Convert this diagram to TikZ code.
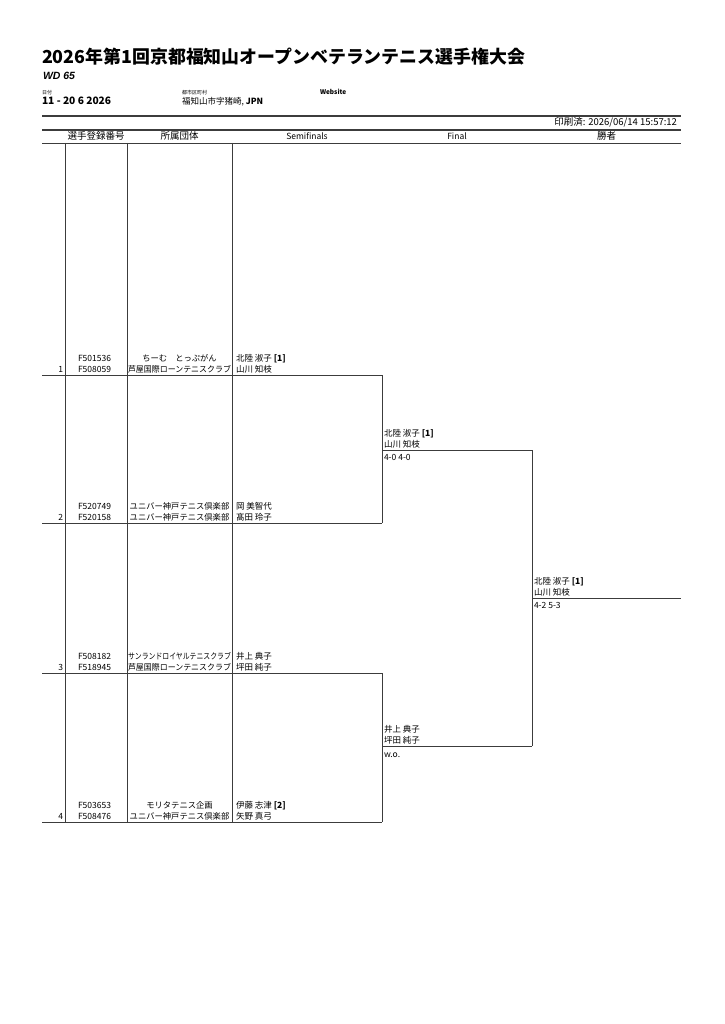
\documentclass[tikz,border=0pt]{standalone}
\usepackage{fontspec}
\usepackage{graphicx}
\setmainfont{Noto Sans CJK JP}
\newfontfamily\latinfont{Liberation Sans}
\usetikzlibrary{positioning}
\definecolor{RuleGray}{RGB}{60,60,60}
\newsavebox{\clubsave}
\newcommand{\clubbox}[1]{\sbox{\clubsave}{#1}\hbox to 103pt{\hss\ifdim\wd\clubsave>103pt \resizebox{103pt}{\height}{#1}\else\usebox{\clubsave}\fi\hss}}

\begin{document}
\begin{tikzpicture}[x=1pt,y=-1pt]
  \tikzset{TextStyle/.style = {
    anchor        = base west,
    inner sep     = 0pt,
    outer sep     = 0pt,
    font          = \fontsize{8.5}{9}\selectfont,
    text          = black
    }
  }
  \tikzset{NumberStyle/.style = {
    TextStyle,
    anchor        = base east
    }
  }
  \tikzset{ClubStyle/.style = {
    TextStyle,
    anchor        = base,
    font          = \fontsize{8.3}{9}\selectfont
    }
  }
  \tikzset{HeadStyle/.style = {
    TextStyle,
    anchor        = base,
    font          = \fontsize{8.5}{10}\selectfont
    }
  }
  \tikzset{TinyStyle/.style = {
    TextStyle,
    font          = \fontsize{5}{6}\selectfont
    }
  }
  \tikzset{RuleStyle/.style = {
    draw          = RuleGray,
    line width    = 0.8pt
    }
  }
  \tikzset{BracketStyle/.style = {
    draw          = RuleGray,
    line width    = 0.8pt
    }
  }

  \useasboundingbox (0,0) rectangle (724,1024);

	\node[TextStyle, font=\fontsize{17.9}{20}\selectfont\bfseries](title) at (42,64) {2026年第1回京都福知山オープンベテランテニス選手権大会};
	\node[TextStyle, font=\fontsize{10.5}{12}\selectfont\latinfont\bfseries\itshape](event) at (43,80) {WD 65};
	\node[TinyStyle](datelbl) at (42,95) {日付};
	\node[TextStyle, font=\fontsize{10.2}{11}\selectfont\bfseries](date) at (42,104.5) {11 - 20 6 2026};
	\node[TinyStyle](citylbl) at (182,95) {都市区町村};
	\node[TextStyle](city) at (182,104.5) {福知山市字猪崎, \textbf{JPN}};
	\node[TinyStyle, font=\fontsize{6.5}{7}\selectfont\bfseries](web) at (320,95) {Website};
	\node[TextStyle, anchor=base east, font=\fontsize{9.5}{10}\selectfont](printed) at (677,125.5) {印刷済: 2026/06/14 15:57:12};

	\draw[RuleStyle, line width=1.8pt](42,116) -- (681,116);
	\draw[RuleStyle, line width=1.2pt](42,130) -- (681,130);
	\draw[RuleStyle](42,143) -- (681,143);

	\node[HeadStyle, font=\fontsize{9.5}{10}\selectfont](h1) at (96,140) {選手登録番号};
	\node[HeadStyle, font=\fontsize{9.5}{10}\selectfont](h2) at (179.5,140) {所属団体};
	\node[HeadStyle](h3) at (307,140) {Semifinals};
	\node[HeadStyle](h4) at (457,140) {Final};
	\node[HeadStyle, font=\fontsize{9.5}{10}\selectfont](h5) at (606.5,140) {勝者};

	\coordinate (C1) at (65,143);
	\coordinate (C2) at (127,143);
	\coordinate (C3) at (232,143);
	\coordinate (L1) at (42,375);
	\coordinate (L2) at (42,523);
	\coordinate (L3) at (42,673);
	\coordinate (L4) at (42,822);
	\coordinate (R1) at (382,375);
	\coordinate (R2) at (382,523);
	\coordinate (R3) at (382,673);
	\coordinate (R4) at (382,822);
	\coordinate (F1) at (532,450);
	\coordinate (F2) at (532,746);
	\coordinate (W) at (681,598);

	\draw[RuleStyle](C1) -- (C1 |- L4);
	\draw[RuleStyle](C2) -- (C2 |- L4);
	\draw[RuleStyle](C3) -- (C3 |- L4);
	\draw[BracketStyle](L1) -- (R1);
	\draw[BracketStyle](L2) -- (R2);
	\draw[BracketStyle](L3) -- (R3);
	\draw[BracketStyle](L4) -- (R4);
	\draw[BracketStyle](R1) -- (R2);
	\draw[BracketStyle](R3) -- (R4);
	\draw[BracketStyle](R1 |- F1) -- (F1);
	\draw[BracketStyle](R3 |- F2) -- (F2);
	\draw[BracketStyle](F1) -- (F2);
	\draw[BracketStyle](F1 |- W) -- (W);

	\node[NumberStyle](n1) at (63,372.5) {1};
	\node[NumberStyle](n2) at (63,520.5) {2};
	\node[NumberStyle](n3) at (63,670.5) {3};
	\node[NumberStyle](n4) at (63,819.5) {4};
	\node[TextStyle](id1a) at (78,361) {F501536};
	\node[TextStyle](id1b) at (78,372.5) {F508059};
	\node[TextStyle](id2a) at (78,509.5) {F520749};
	\node[TextStyle](id2b) at (78,520.5) {F520158};
	\node[TextStyle](id3a) at (78,659.5) {F508182};
	\node[TextStyle](id3b) at (78,670.5) {F518945};
	\node[TextStyle](id4a) at (78,808.5) {F503653};
	\node[TextStyle](id4b) at (78,819.5) {F508476};

	\node[ClubStyle](club1a) at (179.5,361) {\clubbox{ちーむ　とっぷがん}};
	\node[ClubStyle](club1b) at (179.5,372.5) {\clubbox{芦屋国際ローンテニスクラブ}};
	\node[ClubStyle](club2a) at (179.5,509.5) {\clubbox{ユニバー神戸テニス倶楽部}};
	\node[ClubStyle](club2b) at (179.5,520.5) {\clubbox{ユニバー神戸テニス倶楽部}};
	\node[ClubStyle](club3a) at (179.5,659.5) {\clubbox{サンランドロイヤルテニスクラブ}};
	\node[ClubStyle](club3b) at (179.5,670.5) {\clubbox{芦屋国際ローンテニスクラブ}};
	\node[ClubStyle](club4a) at (179.5,808.5) {\clubbox{モリタテニス企画}};
	\node[ClubStyle](club4b) at (179.5,819.5) {\clubbox{ユニバー神戸テニス倶楽部}};

	\node[TextStyle](p1a) at (236,361) {北陸 淑子 \textbf{[1]}};
	\node[TextStyle](p1b) at (236,372.5) {山川 知枝};
	\node[TextStyle](p2a) at (236,509.5) {岡 美智代};
	\node[TextStyle](p2b) at (236,520.5) {髙田 玲子};
	\node[TextStyle](p3a) at (236,659.5) {井上 典子};
	\node[TextStyle](p3b) at (236,670.5) {坪田 純子};
	\node[TextStyle](p4a) at (236,808.5) {伊藤 志津 \textbf{[2]}};
	\node[TextStyle](p4b) at (236,819.5) {矢野 真弓};

	\node[TextStyle](f1a) at (384,436.5) {北陸 淑子 \textbf{[1]}};
	\node[TextStyle](f1b) at (384,447.5) {山川 知枝};
	\node[TextStyle](f1s) at (384,460) {4-0 4-0};
	\node[TextStyle](f2a) at (384,732.5) {井上 典子};
	\node[TextStyle](f2b) at (384,743.5) {坪田 純子};
	\node[TextStyle](f2s) at (384,757) {w.o.};

	\node[TextStyle](w1a) at (534,584.5) {北陸 淑子 \textbf{[1]}};
	\node[TextStyle](w1b) at (534,595.5) {山川 知枝};
	\node[TextStyle](w1s) at (534,608) {4-2 5-3};

  \end{tikzpicture}
\end{document}
